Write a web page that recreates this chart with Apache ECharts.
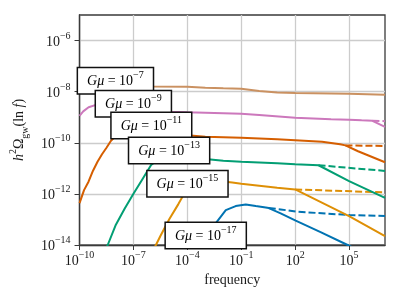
<!DOCTYPE html>
<html><head><meta charset="utf-8">
<script src="https://cdn.jsdelivr.net/npm/echarts@6/dist/echarts.min.js"></script>
<style>html,body{margin:0;padding:0;background:#fff}#c{width:400px;height:300px}</style>
</head><body><div id="c"></div>
<script>
// ---- data ----
const xTicks = [1e-10, 1e-7, 1e-4, 1e-1, 1e2, 1e5];
const yTicks = [1e-14, 1e-12, 1e-10, 1e-8, 1e-6];
const seriesNames = ['Gμ=1e-7', 'Gμ=1e-9', 'Gμ=1e-11', 'Gμ=1e-13', 'Gμ=1e-15', 'Gμ=1e-17'];
const labelExps = ['7', '9', '11', '13', '15', '17'];

const freq7  = [1e-10, 1e-8, 1e-6, 1e-4, 1e-3, 1e-2, 1e-1, 1, 10, 100, 1e4, 1e5, 1e7];
const omega7 = [1.6e-8, 1.67e-8, 1.6e-8, 1.57e-8, 1.43e-8, 1.36e-8, 1.3e-8, 1.07e-8, 9.35e-9, 8.8e-9, 8.5e-9, 8.3e-9, 7.6e-9];

const freq9  = [1e-10, 1.6e-10, 3.2e-10, 1e-9, 1e-8, 1e-7, 1e-6, 1e-5, 1e-4, 1e-3, 1e-1, 1, 100, 1e4, 1e5, 5e5, 2e6, 1e7];
const omega9 = [1.13e-9, 1.69e-9, 2.47e-9, 3.18e-9, 2.9e-9, 2.43e-9, 1.94e-9, 1.65e-9, 1.55e-9, 1.5e-9, 1.36e-9, 1.21e-9, 9.6e-10, 8.4e-10, 8.0e-10, 7.55e-10, 7.2e-10, 4.2e-10];
const freq9d  = [2e6, 1e7];
const omega9d = [7.2e-10, 7.0e-10];

const freq11  = [1e-10, 1.78e-10, 3.16e-10, 5.62e-10, 1e-9, 1.78e-9, 3.16e-9, 5.62e-9, 1e-8, 3.16e-8, 1e-7, 1e-6, 1e-5, 1e-4, 1e-3, 1e-1, 10, 100, 3.16e3, 3.16e4, 6.3e4, 3.16e5, 1e7];
const omega11 = [4.35e-13, 1.4e-12, 3.0e-12, 8.07e-12, 1.82e-11, 3.56e-11, 6.38e-11, 1.2e-10, 1.8e-10, 2.68e-10, 2.94e-10, 2.81e-10, 2.35e-10, 1.96e-10, 1.71e-10, 1.57e-10, 1.37e-10, 1.25e-10, 1.09e-10, 8.7e-11, 7.9e-11, 4.65e-11, 1.73e-11];
const freq11d  = [6.3e4, 1e7];
const omega11d = [7.9e-11, 7.5e-11];

const freq13  = [2.5e-9, 3.7e-9, 1e-8, 3.16e-8, 1e-7, 3.16e-7, 1e-6, 3.16e-6, 1e-5, 1e-4, 1e-3, 1e-2, 1e-1, 10, 100, 2e3, 1e5, 1e7];
const omega13 = [5.4e-15, 1e-14, 5.77e-14, 2.54e-13, 1.02e-12, 3.77e-12, 1.4e-11, 2.48e-11, 2.72e-11, 2.6e-11, 2.31e-11, 1.99e-11, 1.82e-11, 1.58e-11, 1.45e-11, 1.32e-11, 3.15e-12, 7.0e-13];
const freq13d  = [2e3, 1e7];
const omega13d = [1.32e-11, 7.94e-12];

const freq15  = [1.26e-6, 1.78e-6, 3.16e-6, 1e-5, 3.16e-5, 5.62e-5, 1e-4, 3.16e-4, 1e-3, 3.16e-3, 1e-2, 3.16e-2, 1e-1, 1, 10, 100, 1e5, 1e7];
const omega15 = [6.3e-15, 1e-14, 2.24e-14, 1.04e-13, 3.98e-13, 8.17e-13, 1.4e-12, 2.4e-12, 3.0e-12, 3.15e-12, 3.06e-12, 2.8e-12, 2.51e-12, 2.1e-12, 1.75e-12, 1.49e-12, 1.36e-13, 2.24e-14];
const freq15d  = [100, 1e7];
const omega15d = [1.49e-12, 1.14e-12];

const freq17  = [8.3e-4, 2e-3, 4.36e-3, 1.38e-2, 4.9e-2, 0.178, 0.64, 2.3, 3.4, 15.6, 107, 2.6e3, 8.3e4, 2e5];
const omega17 = [1e-14, 2.94e-14, 8.1e-14, 2.32e-13, 3.33e-13, 3.87e-13, 3.33e-13, 2.96e-13, 2.78e-13, 1.73e-13, 9.0e-14, 3.21e-14, 1e-14, 7.4e-15];
const freq17d  = [3.4, 15.6, 107, 1.07e5, 1e7];
const omega17d = [2.78e-13, 2.47e-13, 2.03e-13, 1.48e-13, 1.36e-13];

// annotation anchors (left-middle of each box), in data coordinates
const labelFreq  = [8.3e-11, 8.26e-10, 6.15e-9, 5.85e-8, 6.15e-7, 6.4e-6];
const labelOmega = [2.67e-8, 3.39e-9, 4.73e-10, 4.97e-11, 2.47e-12, 2.35e-14];

// ---- styling ----
const FONT = '"Liberation Serif", "Times New Roman", serif';
const colors = ['#CA9161', '#CC78BC', '#D55E00', '#029E73', '#DE8F05', '#0173B2'];
const TXT = '#1a1a1a';
const SPINE = '#3a3a3a';

function pairs(f, o) { return f.map((x, i) => [x, o[i]]); }
const series = [];
function addLine(name, f, o, color, dashed) {
  series.push({
    type: 'line', name: name, data: pairs(f, o), showSymbol: false, symbol: 'none',
    lineStyle: { color: color, width: 2, type: dashed ? [7, 3] : 'solid', cap: 'butt' },
    itemStyle: { color: color }, clip: true, silent: true, z: dashed ? 2 : 3
  });
}
addLine(seriesNames[0], freq7, omega7, colors[0], false);
addLine(seriesNames[1] + ' ext', freq9d, omega9d, colors[1], true);
addLine(seriesNames[1], freq9, omega9, colors[1], false);
addLine(seriesNames[2] + ' ext', freq11d, omega11d, colors[2], true);
addLine(seriesNames[2], freq11, omega11, colors[2], false);
addLine(seriesNames[3] + ' ext', freq13d, omega13d, colors[3], true);
addLine(seriesNames[3], freq13, omega13, colors[3], false);
addLine(seriesNames[4] + ' ext', freq15d, omega15d, colors[4], true);
addLine(seriesNames[4], freq15, omega15, colors[4], false);
addLine(seriesNames[5] + ' ext', freq17d, omega17d, colors[5], true);
addLine(seriesNames[5], freq17, omega17, colors[5], false);

function supLabel(v) {
  const e = Math.round(Math.log10(v));
  const s = e < 0 ? '\u2212' + (-e) : String(e);
  return '{b|10}{s|' + s + '}';
}
const tickRich = {
  b: { fontFamily: FONT, fontSize: 14, lineHeight: 22, color: TXT },
  s: { fontFamily: FONT, fontSize: 10, lineHeight: 14, verticalAlign: 'top', color: TXT }
};

const chart = echarts.init(document.getElementById('c'), null, { renderer: 'canvas' });
chart.setOption({
  animation: false,
  backgroundColor: '#fff',
  grid: { left: 78.5, right: 15, top: 15, bottom: 55, show: true, borderColor: SPINE, borderWidth: 1.3, backgroundColor: 'transparent' },
  xAxis: {
    type: 'log', logBase: 10, min: 1e-10, max: 1e7,
    name: 'frequency', nameLocation: 'middle', nameGap: 24,
    nameTextStyle: { fontFamily: FONT, fontSize: 14, color: TXT },
    axisLine: { show: true, onZero: false, lineStyle: { color: SPINE, width: 1.3 } },
    axisTick: { show: true, inside: false, length: 5, customValues: xTicks, lineStyle: { color: SPINE, width: 1 } },
    axisLabel: { show: true, margin: 5, customValues: xTicks, formatter: supLabel, rich: tickRich, showMinLabel: true, showMaxLabel: true, hideOverlap: false },
    splitLine: { show: true, lineStyle: { color: '#cccccc', width: 1.3 } },
    minorTick: { show: false }, minorSplitLine: { show: false }
  },
  yAxis: {
    type: 'log', logBase: 10, min: 1e-14, max: 1e-5,
    name: '{i|h}{s|2}{n|\u03A9}{d|gw}{n|(ln }{i|f}{n|)}', nameLocation: 'middle', nameGap: 43, nameRotate: 90,
    nameTextStyle: {
      fontFamily: FONT, fontSize: 14, color: TXT,
      rich: {
        n: { fontFamily: FONT, fontSize: 14, lineHeight: 22, color: TXT },
        i: { fontFamily: FONT, fontSize: 14, lineHeight: 22, fontStyle: 'italic', color: TXT },
        s: { fontFamily: FONT, fontSize: 10, lineHeight: 14, verticalAlign: 'top', color: TXT },
        d: { fontFamily: FONT, fontSize: 10, lineHeight: 14, verticalAlign: 'bottom', color: TXT }
      }
    },
    axisLine: { show: true, onZero: false, lineStyle: { color: SPINE, width: 1.3 } },
    axisTick: { show: true, inside: false, length: 5, customValues: yTicks, lineStyle: { color: SPINE, width: 1 } },
    axisLabel: { show: true, margin: 9, customValues: yTicks, formatter: supLabel, rich: tickRich, padding: [3, 0, 0, 0], showMinLabel: true, showMaxLabel: true, hideOverlap: false },
    splitLine: { show: true, lineStyle: { color: '#cccccc', width: 1.3 } },
    minorTick: { show: false }, minorSplitLine: { show: false }
  },
  series: series
});

const boxRich = {
  it: { fontFamily: FONT, fontSize: 14, lineHeight: 22, fontStyle: 'italic', color: '#000' },
  n: { fontFamily: FONT, fontSize: 14, lineHeight: 22, color: '#000' },
  s: { fontFamily: FONT, fontSize: 10, lineHeight: 14, verticalAlign: 'top', color: '#000' }
};
const graphics = labelFreq.map((f, i) => {
  const p = chart.convertToPixel({ xAxisIndex: 0, yAxisIndex: 0 }, [f, labelOmega[i]]);
  return {
    type: 'text', x: p[0], y: p[1], z: 100, silent: true,
    style: {
      text: '{it|G\u03BC}{n| = 10}{s|\u2212' + labelExps[i] + '}',
      rich: boxRich, fontFamily: FONT, fontSize: 14,
      align: 'left', verticalAlign: 'middle',
      backgroundColor: '#ffffff', borderColor: '#111111', borderWidth: 1.5,
      padding: [2, 9, 1, 9]
    }
  };
});
chart.setOption({ graphic: graphics });
</script>
</body></html>
